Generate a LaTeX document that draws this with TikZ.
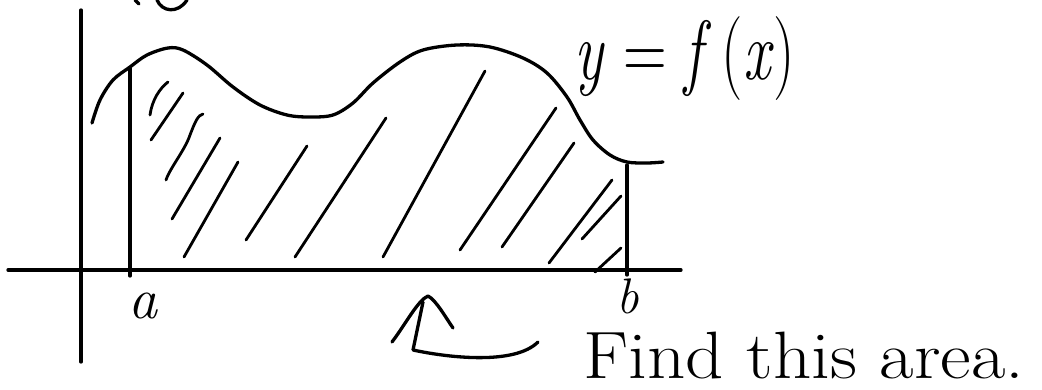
\documentclass[tikz,border=0pt]{standalone}
\usepackage{fontspec}
\usepackage{graphicx}
\begin{document}
\begin{tikzpicture}[x=1pt,y=-1pt,
  ink/.style={line width=3.3pt,line cap=round,line join=round},
  hatch/.style={line width=2.8pt,line cap=round},
  lbl/.style={inner sep=0pt,font=\fontsize{58}{62}\selectfont\itshape}]
\useasboundingbox (0,0) rectangle (1042,390);
% axes
\draw[ink] (8,270) -- (681,270);
\draw[ink] (81,10) -- (81,362);
% cut-off axis label at top
\draw[ink] (135,0) -- (139,4);
\draw[ink] (157,0) .. controls (162,12) and (178,14) .. (187,0);
% curve
\draw[ink] plot[smooth,tension=0.55] coordinates {
 (92,123) (100,100) (113,80) (130,67) (147,55) (168,48) (183,50) (207,65)
 (233,87) (260,105) (287,115) (310,117) (333,115) (353,103) (373,83) (400,62)
 (423,50) (457,45) (490,47) (523,58) (547,73) (567,97) (580,120) (593,140)
 (610,155) (627,162) (647,163) (663,162)};
% bounds
\draw[ink] (130,68) -- (130,276);
\draw[ink] (627,165) -- (627,275);
% hatching
\draw[hatch] (150,115) .. controls (152,100) and (160,88) .. (168,82);
\draw[hatch] (151,140) -- (183,93);
\draw[hatch] (166,180) .. controls (170,168) and (185,150) .. (190,135) .. controls (195,122) and (198,115) .. (203,114);
\draw[hatch] (172,219) -- (220,138);
\draw[hatch] (184,257) -- (238,162);
\draw[hatch] (246,240) -- (307,146);
\draw[hatch] (295,257) -- (386,118);
\draw[hatch] (383,257) -- (485,71);
\draw[hatch] (460,250) -- (556,108);
\draw[hatch] (502,247) -- (574,143);
\draw[hatch] (549,263) -- (612,180);
\draw[hatch] (582,239) -- (621,196);
\draw[hatch] (595,272) -- (621,248);
% labels
\node[lbl] (la) at (143,306) {a};
\node[lbl,font=\fontsize{50}{54}\selectfont\itshape] (lb) at (628,296) {b};
\node[inner sep=0pt,anchor=base west,font=\fontsize{84}{90}\selectfont] (fx) at (574,80)
  {\scalebox{0.72}[1]{\textit{y} = \textit{f}\,(\textit{x})}};
\node[inner sep=0pt,anchor=base west,font=\fontsize{67}{70}\selectfont] (find) at (583,378)
  {\scalebox{1.12}[1]{Find this area.}};
% pointer
\draw[ink] (392,342) .. controls (405,325) and (418,300) .. (428,296) .. controls (436,300) and (446,318) .. (453,328);
\draw[ink] (423,302) -- (413,350) .. controls (450,358) and (515,365) .. (538,342);
\end{tikzpicture}
\end{document}
